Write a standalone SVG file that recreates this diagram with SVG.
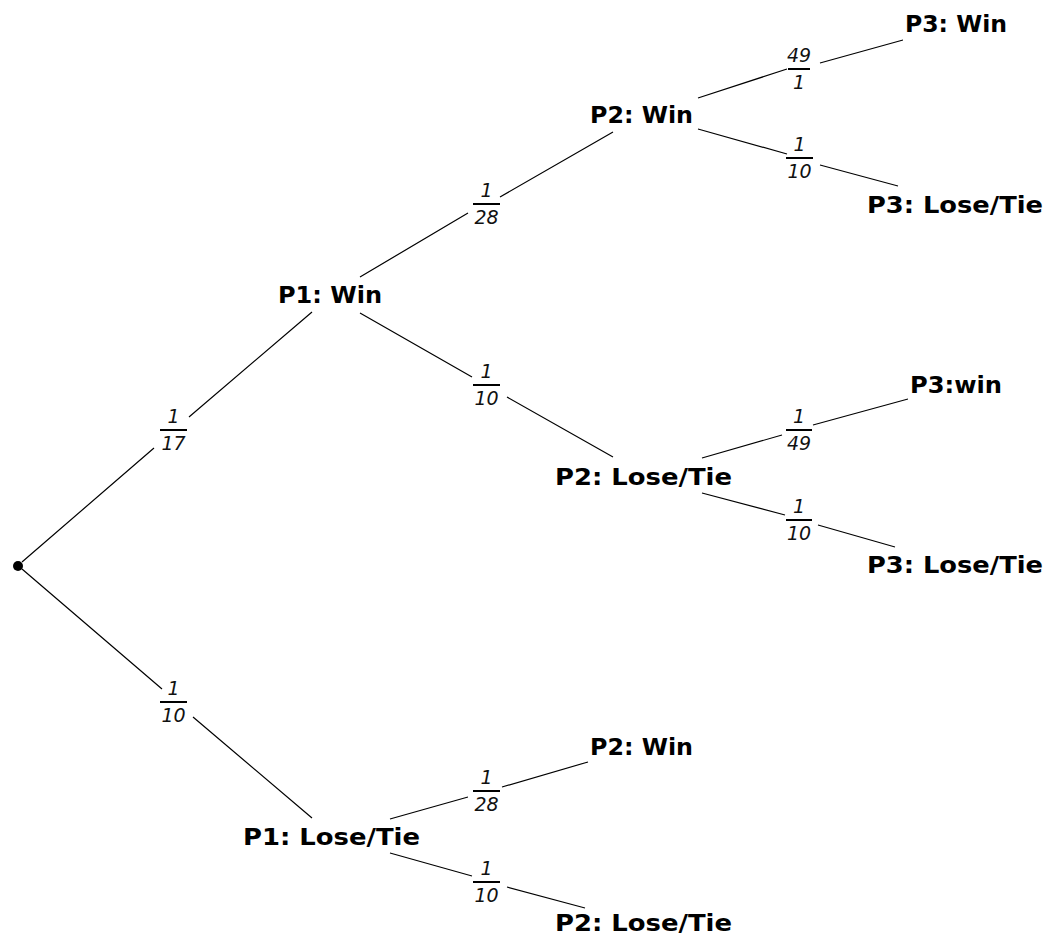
<svg xmlns="http://www.w3.org/2000/svg" width="1050" height="937" viewBox="0 0 1050 937">
<style>
.node{font-family:"DejaVu Sans","Liberation Sans",sans-serif;font-weight:bold;font-size:23px;fill:#000}
.fr{font-family:"DejaVu Sans","Liberation Sans",sans-serif;font-style:italic;font-size:19px;fill:#111;text-anchor:middle}
.ln{stroke:#000;stroke-width:1.2;fill:none}
.bar{stroke:#000;stroke-width:2;fill:none}
</style>
<rect width="1050" height="937" fill="#fff"/>
<g id="connectors">
  <g id="e-root-p1win">
    <path class="ln" d="M22,562 L154,448 M189,417 L312,312"/>
    <text class="fr" x="173.5" y="423">1</text><line class="bar" x1="160" y1="430" x2="187" y2="430"/><text class="fr" x="173.5" y="450">17</text>
  </g>
  <g id="e-root-p1lose">
    <path class="ln" d="M22,569 L162,689 M193,717 L312,818"/>
    <text class="fr" x="173.5" y="695">1</text><line class="bar" x1="160" y1="702" x2="187" y2="702"/><text class="fr" x="173.5" y="722">10</text>
  </g>
  <g id="e-p1win-p2win">
    <path class="ln" d="M360,277 L468,213 M500,197 L613,132"/>
    <text class="fr" x="486.5" y="197">1</text><line class="bar" x1="473" y1="204" x2="500" y2="204"/><text class="fr" x="486.5" y="224">28</text>
  </g>
  <g id="e-p1win-p2lose">
    <path class="ln" d="M360,313 L472,377 M507,397 L613,457"/>
    <text class="fr" x="486.5" y="378">1</text><line class="bar" x1="473" y1="385" x2="500" y2="385"/><text class="fr" x="486.5" y="405">10</text>
  </g>
  <g id="e-p2win-p3win">
    <path class="ln" d="M698,98 L787,69 M820,63 L903,40"/>
    <text class="fr" x="799" y="62">49</text><line class="bar" x1="788" y1="69" x2="810" y2="69"/><text class="fr" x="799" y="89">1</text>
  </g>
  <g id="e-p2win-p3lose">
    <path class="ln" d="M698,129 L787,154 M820,165 L898,186"/>
    <text class="fr" x="799.5" y="151">1</text><line class="bar" x1="786" y1="158" x2="813" y2="158"/><text class="fr" x="799.5" y="178">10</text>
  </g>
  <g id="e-p2lose-p3win">
    <path class="ln" d="M702,458 L782,435 M813,425 L908,399"/>
    <text class="fr" x="799" y="423">1</text><line class="bar" x1="786" y1="430" x2="812" y2="430"/><text class="fr" x="799" y="450">49</text>
  </g>
  <g id="e-p2lose-p3lose">
    <path class="ln" d="M702,493 L785,515 M818,525 L895,547"/>
    <text class="fr" x="799" y="513">1</text><line class="bar" x1="786" y1="520" x2="812" y2="520"/><text class="fr" x="799" y="540">10</text>
  </g>
  <g id="e-p1lose-p2win">
    <path class="ln" d="M390,819 L468,797 M502,787 L588,762"/>
    <text class="fr" x="486.5" y="784">1</text><line class="bar" x1="473" y1="791" x2="500" y2="791"/><text class="fr" x="486.5" y="811">28</text>
  </g>
  <g id="e-p1lose-p2lose">
    <path class="ln" d="M390,853 L472,876 M507,887 L585,908"/>
    <text class="fr" x="486.5" y="875">1</text><line class="bar" x1="473" y1="882" x2="500" y2="882"/><text class="fr" x="486.5" y="902">10</text>
  </g>
</g>
<g id="root"><circle cx="18" cy="566" r="5" fill="#000"/></g>
<g id="p1win"><text class="node" x="278" y="303" textLength="104" lengthAdjust="spacingAndGlyphs">P1: Win</text></g>
<g id="p1lose"><text class="node" x="243" y="845" textLength="177" lengthAdjust="spacingAndGlyphs">P1: Lose/Tie</text></g>
<g id="p2win-a"><text class="node" x="590" y="123" textLength="103" lengthAdjust="spacingAndGlyphs">P2: Win</text></g>
<g id="p2lose-a"><text class="node" x="555" y="485" textLength="177" lengthAdjust="spacingAndGlyphs">P2: Lose/Tie</text></g>
<g id="p2win-b"><text class="node" x="590" y="755" textLength="103" lengthAdjust="spacingAndGlyphs">P2: Win</text></g>
<g id="p2lose-b"><text class="node" x="555" y="931" textLength="177" lengthAdjust="spacingAndGlyphs">P2: Lose/Tie</text></g>
<g id="p3win-a"><text class="node" x="905" y="32" textLength="102" lengthAdjust="spacingAndGlyphs">P3: Win</text></g>
<g id="p3lose-a"><text class="node" x="867" y="213" textLength="176" lengthAdjust="spacingAndGlyphs">P3: Lose/Tie</text></g>
<g id="p3win-b"><text class="node" x="910" y="393" textLength="92" lengthAdjust="spacingAndGlyphs">P3:win</text></g>
<g id="p3lose-b"><text class="node" x="867" y="573" textLength="176" lengthAdjust="spacingAndGlyphs">P3: Lose/Tie</text></g>
</svg>
